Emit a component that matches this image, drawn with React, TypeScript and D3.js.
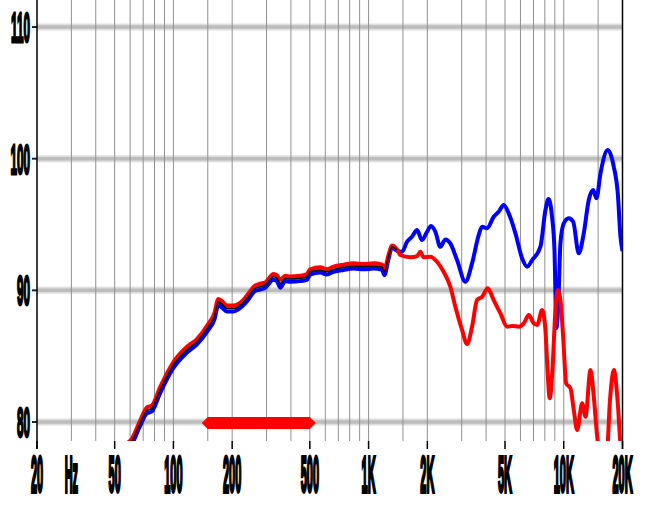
import React from "react";
import * as d3 from "d3";

// ---- data ----
const xTickFreqs = [20, 30, 50, 100, 200, 500, 1000, 2000, 5000, 10000, 20000];
const xTickLabels = ["20", "Hz", "50", "100", "200", "500", "1K", "2K", "5K", "10K", "20K"];
const majorTickFreqs = [20, 50, 100, 200, 500, 1000, 2000, 5000, 10000, 20000];
const gridFreqs = [
  30, 40, 50, 60, 70, 80, 90, 100, 150, 200, 300, 400, 500, 600, 700, 800, 900, 1000,
  1500, 2000, 3000, 4000, 5000, 6000, 7000, 8000, 9000, 10000, 15000,
];
const yTicks = [80, 90, 100, 110];
const bandRange = [150, 500];

const lowFreqs = [
  58, 61, 67.5, 73, 77.5, 85.5, 100, 117, 132, 151, 162, 170, 177, 188, 203, 224, 238, 262, 278, 295,
  326, 339, 353, 374, 397, 446, 483, 502, 565, 612, 661, 745, 838, 943, 1061, 1172, 1204, 1266, 1318, 1399,
];
const blackLowDb = [
  78.2, 78.5, 79.9, 80.86, 81.04, 82.43, 84.33, 85.47, 86.1, 87.24, 88.0, 89.13, 88.96, 88.63, 88.63, 88.96, 89.39, 90.15, 90.27, 90.4,
  91.03, 90.91, 90.53, 90.91, 90.86, 90.91, 91.03, 91.41, 91.54, 91.41, 91.59, 91.75, 91.85, 91.79, 91.85, 91.75, 91.41, 92.55, 93.31, 93.06,
];
const redLowDb = [
  78.4, 78.7, 80.1, 81.1, 81.25, 82.65, 84.55, 85.7, 86.3, 87.45, 88.25, 89.35, 89.2, 88.85, 88.85, 89.15, 89.6, 90.35, 90.5, 90.6,
  91.25, 91.15, 90.8, 91.1, 91.05, 91.1, 91.25, 91.6, 91.75, 91.6, 91.8, 91.95, 92.05, 92.0, 92.05, 91.95, 91.6, 92.7, 93.4, 93.1,
];
const blueLowDb = [
  78.0, 78.3, 79.7, 80.65, 80.8, 82.2, 84.1, 85.25, 85.9, 87.0, 87.75, 88.9, 88.7, 88.4, 88.4, 88.75, 89.15, 89.95, 90.05, 90.2,
  90.8, 90.7, 90.2, 90.7, 90.65, 90.7, 90.8, 91.2, 91.35, 91.2, 91.4, 91.55, 91.65, 91.6, 91.65, 91.55, 91.15, 92.4, 93.25, 93.0,
];

const blueHighFreqs = [
  1484, 1574, 1669, 1771, 1879, 1993, 2089, 2198, 2332, 2474, 2624, 2840, 3133, 3390, 3666, 3816, 4049, 4375, 4641, 4925,
  5224, 5655, 6118, 6492, 6888, 7594, 8058, 8350, 8723, 8963, 9176, 9394, 9616, 10000, 10612, 11176, 11940, 12664, 13434, 14150,
  14714, 15426, 16816, 18050, 18920, 19532, 20000,
];
const blueHighDb = [
  92.93, 93.69, 94.07, 94.58, 93.82, 94.45, 94.88, 94.45, 93.31, 93.87, 93.57, 92.3, 90.65, 92.05, 94.2, 94.83, 94.71, 95.59, 95.97, 96.48,
  95.85, 94.33, 92.43, 91.79, 92.3, 93.31, 96.1, 96.93, 95.49, 93.06, 87.14, 89.26, 93.57, 95.09, 95.47, 95.21, 92.81, 94.33, 96.86, 97.62,
  96.99, 98.88, 100.65, 99.38, 97.36, 94.07, 92.98,
];

const redHighFreqs = [
  1454, 1636, 1771, 1842, 1914, 2072, 2242, 2424, 2624, 2784, 3013, 3196, 3390, 3596, 3816, 4076, 4375, 4737, 5125, 5439,
  5879, 6237, 6617, 7020, 7309, 7752, 8058, 8222, 8480, 8750, 9066, 9316, 9616, 9928, 10288, 10824, 11256, 11716, 12428, 12926,
  13710, 14254, 14840, 15160, 16660, 17256, 18050, 18920, 19530, 20000,
];
const redHighDb = [
  92.68, 92.51, 92.6, 92.93, 92.51, 92.55, 92.17, 91.41, 90.27, 88.75, 86.99, 85.92, 87.24, 89.26, 89.51, 90.15, 89.26, 88.25, 87.24, 87.29,
  87.24, 87.49, 88.12, 87.49, 87.37, 88.5, 86.99, 84.46, 81.8, 83.95, 88.5, 90.02, 89.26, 86.48, 82.94, 82.56, 80.91, 79.39, 81.42, 80.4,
  83.95, 81.92, 78.88, 78.0, 78.0, 81.67, 83.95, 81.42, 78.3, 77.5,
];

// ---- layout ----
const W = 650;
const H = 510;
const X0 = 37;
const X1 = 622.5;
const PLOT_BOTTOM = 441;

export default function App() {
  const x = d3.scaleLog().domain([20, 20000]).range([X0, X1]);
  const y = d3.scaleLinear().domain([80, 110]).range([422, 27]);

  const line = d3
    .line<[number, number]>()
    .x((d) => x(d[0]))
    .y((d) => y(d[1]))
    .curve(d3.curveMonotoneX);

  const zip = (f: number[], v: number[]) => f.map((fr, i) => [fr, v[i]] as [number, number]);
  const blackPts = zip(lowFreqs, blackLowDb);
  const redPts = zip(lowFreqs, redLowDb).concat(zip(redHighFreqs, redHighDb));
  const bluePts = zip(lowFreqs, blueLowDb).concat(zip(blueHighFreqs, blueHighDb));

  const bx0 = x(bandRange[0]) - 6;
  const bx1 = x(bandRange[1]) + 6;
  const by = y(80) + 1;
  const bh = 6;
  const bandPath = `M${bx0},${by} L${bx0 + 6},${by - bh} L${bx1 - 6},${by - bh} L${bx1},${by} L${bx1 - 6},${by + bh} L${bx0 + 6},${by + bh} Z`;

  const font = "'Liberation Sans', Arial, sans-serif";

  return (
    <div style={{ position: "absolute", left: 0, top: 0 }}>
      <svg width={W} height={H} style={{ display: "block", background: "#fff" }}>
        <defs>
          <clipPath id="plotClip">
            <rect x={X0} y={0} width={X1 - X0} height={PLOT_BOTTOM} />
          </clipPath>
        </defs>
        <rect x={0} y={0} width={W} height={H} fill="#fff" />

        {/* horizontal grid bands */}
        {yTicks.map((t) => (
          <g key={"h" + t}>
            <line x1={X0} x2={X1} y1={y(t)} y2={y(t)} stroke="#dedede" strokeWidth={7} />
            <line x1={X0} x2={X1} y1={y(t)} y2={y(t)} stroke="#bdbdbd" strokeWidth={3.5} />
            <line x1={32} x2={X0} y1={y(t)} y2={y(t)} stroke="#222" strokeWidth={2} />
          </g>
        ))}

        {/* vertical grid */}
        {gridFreqs.map((f) => (
          <line key={"v" + f} x1={x(f)} x2={x(f)} y1={0} y2={PLOT_BOTTOM} stroke="#909090" strokeWidth={1} />
        ))}

        {/* major ticks */}
        {majorTickFreqs.map((f) => (
          <line key={"t" + f} x1={x(f)} x2={x(f)} y1={PLOT_BOTTOM} y2={449} stroke="#000" strokeWidth={1.5} />
        ))}

        {/* axes */}
        <line x1={X0} x2={X0} y1={0} y2={449} stroke="#000" strokeWidth={1.5} />
        <line x1={X1} x2={X1} y1={0} y2={449} stroke="#000" strokeWidth={1.5} />

        {/* band marker */}
        <path d={bandPath} fill="#ff0000" />

        {/* curves */}
        <g clipPath="url(#plotClip)">
          <path d={line(bluePts) || ""} fill="none" stroke="#0000ff" strokeWidth={4} strokeLinejoin="round" />
          <path d={line(redPts) || ""} fill="none" stroke="#ff0000" strokeWidth={4} strokeLinejoin="round" />
          <path d={line(blackPts) || ""} fill="none" stroke="#000" strokeWidth={1.6} strokeLinejoin="round" />
        </g>

        {/* y labels */}
        {yTicks.map((t) => (
          <text
            key={"yl" + t}
            transform={`translate(30,${y(t) + 15}) scale(0.28,1)`}
            textAnchor="end"
            fontFamily={font}
            fontWeight="bold"
            fontSize={42}
            fill="#000"
            stroke="#000"
            strokeWidth={3}
          >
            {t}
          </text>
        ))}

        {/* x labels */}
        {xTickFreqs.map((f, i) => (
          <text
            key={"xl" + f}
            transform={`translate(${x(f)},492) scale(0.22,1)`}
            textAnchor="middle"
            fontFamily={font}
            fontWeight="bold"
            fontSize={50}
            fill="#000"
            stroke="#000"
            strokeWidth={4}
          >
            {xTickLabels[i]}
          </text>
        ))}
      </svg>
    </div>
  );
}
